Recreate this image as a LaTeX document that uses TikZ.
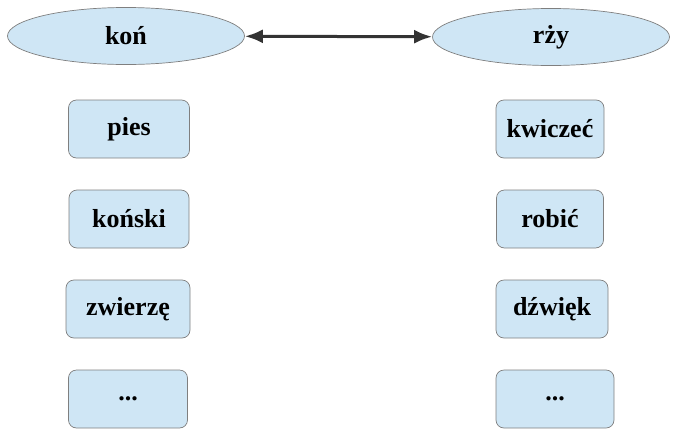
\documentclass[tikz,border=0pt]{standalone}
\usepackage{fontspec}
\setmainfont{Liberation Serif}
\usetikzlibrary{shapes.geometric,arrows.meta}
\definecolor{paleblue}{HTML}{CFE6F5}
\definecolor{edgegray}{HTML}{7F7F7F}
\tikzset{
  word/.style={ellipse,fill=paleblue,draw=edgegray,line width=0.7pt,
    minimum width=237pt,minimum height=57pt,font=\fontsize{26}{28}\selectfont\bfseries},
  assoc/.style={rectangle,rounded corners=8pt,fill=paleblue,draw=edgegray,line width=0.7pt,
    minimum height=58pt,font=\fontsize{26}{28}\selectfont\bfseries}
}
\begin{document}
\begin{tikzpicture}[x=1pt,y=1pt]
  \useasboundingbox (0,0) rectangle (675,-429);
  % main words
  \node[word] (kon) at (126,-36) {koń};
  \node[word] (rzy) at (551,-37) {rży};
  \draw[line width=3pt,draw=black!80,{Latex[length=18pt,width=14pt]}-{Latex[length=18pt,width=14pt]}] (kon) -- (rzy);
  % left column
  \node[assoc,minimum width=121pt] (pies) at (129,-129) {pies};
  \node[assoc,minimum width=120pt] (konski) at (129,-219) {koński};
  \node[assoc,minimum width=124pt] (zwierze) at (128,-309) {zwierzę};
  \node[assoc,minimum width=119pt] (lrest) at (128,-399) {...};
  % right column
  \node[assoc,minimum width=108pt] (kwiczec) at (550,-129) {kwiczeć};
  \node[assoc,minimum width=107pt] (robic) at (550,-219) {robić};
  \node[assoc,minimum width=112pt] (dzwiek) at (552,-309) {dźwięk};
  \node[assoc,minimum width=118pt] (rrest) at (555,-399) {...};
\end{tikzpicture}
\end{document}
